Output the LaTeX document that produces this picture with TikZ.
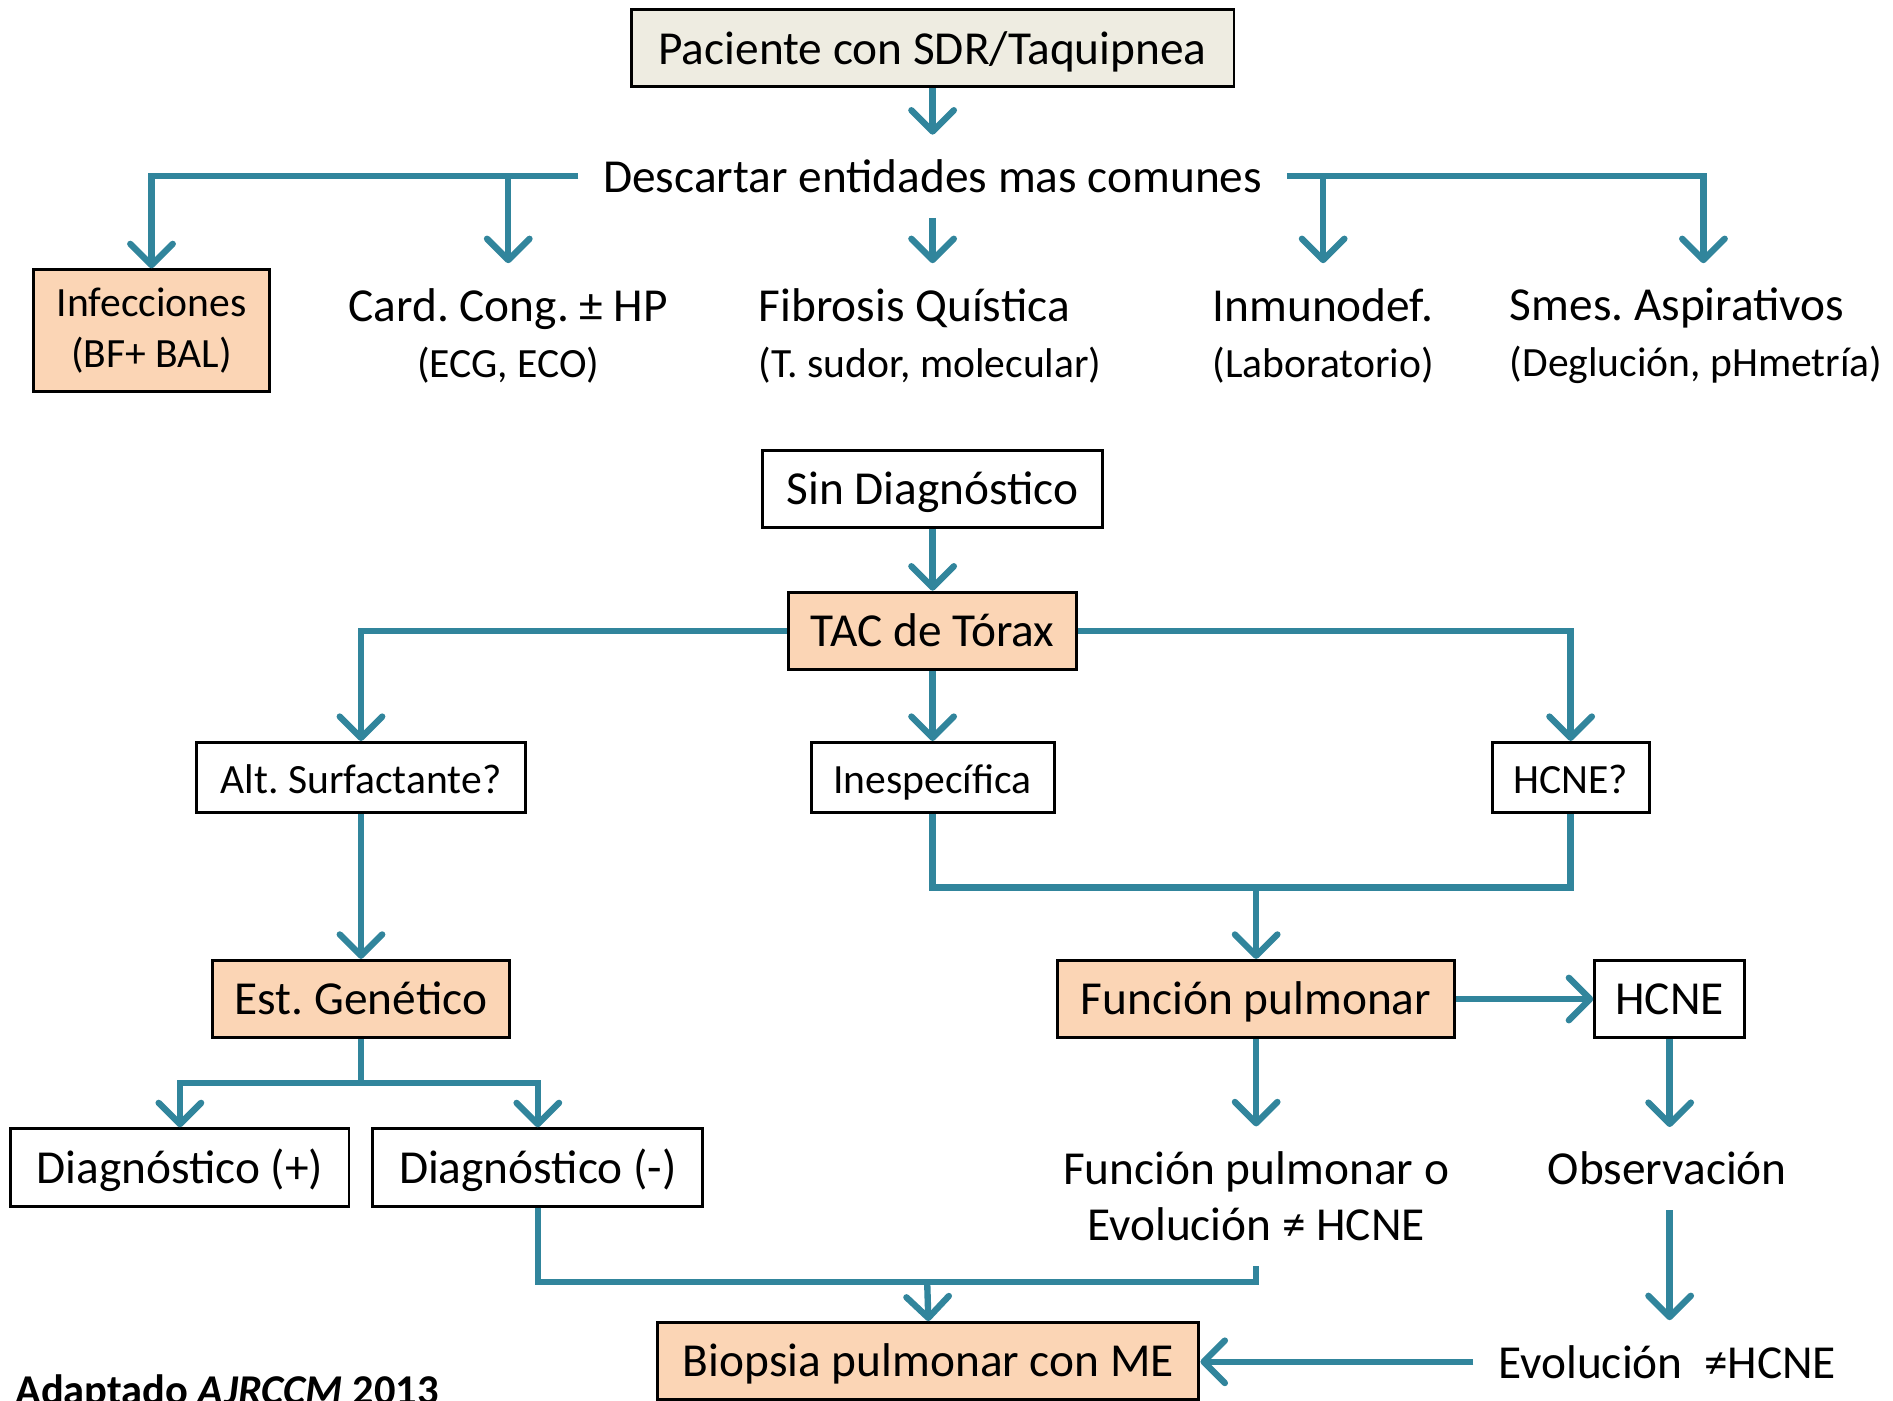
\documentclass[tikz,border=0pt]{standalone}
\usepackage{fontspec}
\setmainfont{Carlito}
\usepackage{tikz}
\usetikzlibrary{arrows.meta,calc}
\definecolor{azulv}{HTML}{31859C}
\definecolor{beige}{HTML}{EEECE1}
\definecolor{salmon}{HTML}{FBD5B5}
\newcommand{\grande}{\fontsize{11.15pt}{13.2pt}\selectfont}
\newcommand{\chica}{\fontsize{9.8pt}{12pt}\selectfont}
\frenchspacing

\begin{document}
\begin{tikzpicture}[x=0.01cm,y=-0.01cm,
  caja/.style={draw,line width=0.7pt,inner sep=0pt,font=\grande,minimum height=0.64cm,text height=0.9em,text depth=0.16em},
  texto/.style={inner sep=0.2cm,font=\grande,align=center},
  linea/.style={draw=azulv,line width=1.5pt},
  flecha/.style={linea,-{Straight Barb[length=5pt,width=10pt,round]}}]
\clip (0,0) rectangle (1568,1160);
\node[caja,fill=beige,minimum width=4.99cm] (pac) at (772.5,40) {Paciente con SDR/Taquipnea};
\node[texto] (desc) at (772.5,146) {Descartar entidades mas comunes};
\node[draw,line width=0.7pt,fill=salmon,font=\chica,align=center,minimum width=1.95cm,minimum height=1.01cm,inner sep=0pt] (inf) at (125.5,274) {Infecciones\\(BF+ BAL)};
\node[texto,anchor=north] (card) at (421,218) {Card. Cong. ± HP\\{\chica (ECG, ECO)}};
\node[texto,anchor=north,align=left] (fib) at (770.5,218) {Fibrosis Quística\\{\chica (T. sudor, molecular)}};
\node[texto,anchor=north,align=left] (inm) at (1096,218) {Inmunodef.\\{\chica (Laboratorio)}};
\node[texto,anchor=north,align=left] (smes) at (1405,218) {Smes. Aspirativos\\{\chica (Deglución, pHmetría)}};
\node[caja,minimum width=2.81cm] (sin) at (772.5,405) {Sin Diagnóstico};
\node[caja,fill=salmon,minimum width=2.39cm] (tac) at (772.5,522.5) {TAC de Tórax};
\node[caja,font=\chica,minimum width=2.72cm,minimum height=0.58cm] (alt) at (299,644) {Alt. Surfactante?};
\node[caja,font=\chica,minimum width=2.01cm,minimum height=0.58cm] (ines) at (772.5,644) {Inespecífica};
\node[caja,font=\chica,minimum width=1.3cm,minimum height=0.58cm] (hcq) at (1301,644) {HCNE?};
\node[caja,fill=salmon,minimum width=2.46cm] (est) at (299,827.5) {Est. Genético};
\node[caja,fill=salmon,minimum width=3.29cm] (fp) at (1040.5,827.5) {Función pulmonar};
\node[caja,minimum width=1.24cm] (hc) at (1383,827.5) {HCNE};
\node[caja,minimum width=2.8cm] (dp) at (149,967) {Diagnóstico (+)};
\node[caja,minimum width=2.73cm] (dn) at (445.5,967) {Diagnóstico (-)};
\node[texto,anchor=north] (fpo) at (1040.5,933) {Función pulmonar o\\Evolución ≠ HCNE};
\node[texto] (obs) at (1381,968) {Observación};
\node[texto] (evo) at (1381,1128) {Evolución\ \ ≠HCNE};
\node[caja,fill=salmon,minimum width=4.48cm] (bio) at (769,1127.5) {Biopsia pulmonar con ME};
\node[anchor=base west,inner sep=0pt,font=\fontsize{10pt}{12pt}\selectfont\bfseries] (ref) at (12,1163) {Adaptado \textit{AJRCCM} 2013};
\coordinate (j1) at (1040.5,735);
\coordinate (j2) at (299,897);
\coordinate (j3) at (768,1062);
\draw[flecha] (pac) -- (desc);
\draw[flecha] (desc.south) -- (desc.south |- fib.north);
\draw[flecha] (desc.west) -| (inf.north);
\draw[flecha] (card.north |- desc.west) -- (card.north);
\draw[flecha] (desc.east) -| ([xshift=0.06cm]smes.north);
\draw[flecha] (inm.north |- desc.east) -- (inm.north);
\draw[flecha] (sin) -- (tac);
\draw[flecha] (tac.west) -| (alt.north);
\draw[flecha] (tac) -- (ines);
\draw[flecha] (tac.east) -| (hcq.north);
\draw[flecha] (alt) -- (est);
\draw[linea] (ines.south) |- (j1) -| (hcq.south);
\draw[flecha] (j1) -- (fp.north);
\draw[flecha] (fp) -- (hc);
\draw[linea] (est.south) -- (j2);
\draw[flecha] (j2) -| (dp.north);
\draw[flecha] (j2) -| (dn.north);
\draw[flecha] (fp) -- (fpo);
\draw[flecha] (hc.south) -- (hc.south |- obs.north);
\draw[flecha] (obs.south -| hc.south) -- (hc.south |- evo.north);
\draw[linea] (dn.south) |- (fpo.south |- j3) -- (fpo.south);
\draw[flecha] (j3) -- (bio.north);
\draw[flecha] (evo.west) -- (evo.west -| bio.east);
\end{tikzpicture}
\end{document}
